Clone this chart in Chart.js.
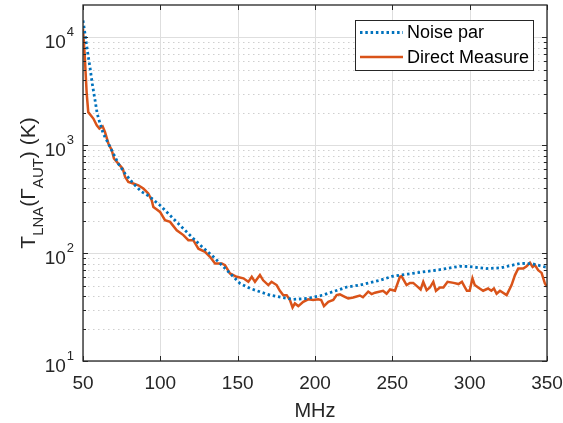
<!DOCTYPE html>
<html>
<head>
<meta charset="utf-8">
<script src="https://cdn.jsdelivr.net/npm/chart.js@4.4.1/dist/chart.umd.min.js"></script>
<style>
  html, body { margin: 0; padding: 0; background: #fff; }
  #wrap { width: 563px; height: 423px; }
</style>
</head>
<body>
<div id="wrap"><canvas id="grafico" width="563" height="423"></canvas></div>
<script>
// Noise parameters model (MHz, K)
const noiseFreq = [50, 51.3, 52.8, 54.5, 56, 57.8, 59.2, 61, 63.1, 66.4, 69.6, 72.8, 77.2, 82.5, 88, 91, 93.3,
  99.8, 108.4, 117.1, 125.7, 134.3, 143, 151.5, 158, 170.9, 185.7, 195, 205, 220.6, 229, 242, 250.4,
  260, 270, 280, 293.7, 300, 311, 320, 332.5, 340, 348.7, 350];
const noiseTemp = [14350, 10800, 7580, 5300, 3720, 2610, 1965, 1590, 1283, 1037, 838, 677, 547, 442, 370, 350, 332,
  278, 209, 157, 119, 92.5, 69.7, 52.4, 47.1, 40.8, 37.3, 38, 40.8, 48.5, 50.6, 56, 61.2,
  64, 67, 70, 75.7, 75, 72, 73, 80.3, 80, 74.5, 74];

// Direct measurement (MHz, K)
const directFreq = [50, 51.2, 52.4, 53.4, 55, 56.7, 58.9, 60.6, 62.7, 64.2, 66.4, 68.6, 70, 72.8, 75.7, 77.2, 79.3,
  82.5, 85.8, 89, 91.2, 92.2, 94.4, 95.5, 97.5, 99.8, 103, 106.3, 110.6, 114.9, 118.1, 121.3, 124.6, 128.9,
  132.1, 135.4, 139.7, 141.8, 145, 149.4, 153.7, 156.9, 159.1, 161.2, 164.4, 166.5, 169.8, 171.9, 175.2,
  177.3, 179.5, 181.7, 183.8, 185.5, 187, 189.2, 192.4, 195.6, 198.9, 202.1, 204, 205.8, 208.6, 211.8,
  214, 216.1, 219.3, 221.5, 224.7, 229, 231, 234.4, 236.6, 238.8, 244, 246.3, 248.5, 251.7, 254.9, 256,
  259.2, 261.4, 263.5, 266.8, 268.3, 270, 272.2, 274.3, 276.5, 278.2, 280.8, 283, 285.7, 289.6, 292.8,
  295, 296.5, 298.2, 300, 301.8, 303.3, 305.5, 308.7, 311.9, 314, 315.7, 317.4, 319.6, 323.9, 327.1,
  329.3, 331.4, 334.7, 336.8, 339, 340.7, 342.2, 344.3, 346.5, 348.6, 350];
const directTemp = [12000, 6500, 3010, 2030, 1900, 1770, 1530, 1430, 1500, 1330, 1040, 900, 755, 677, 608, 510, 457,
  442, 426, 397, 370, 357, 310, 268, 255, 241, 202, 195, 163, 147, 132, 132, 110, 103,
  92.5, 80.3, 80.3, 77.4, 64.8, 60.4, 58.4, 54.2, 60.4, 54.2, 62.6, 56, 50.6, 54.3, 50.6,
  44.8, 40.8, 40.8, 36.8, 31.4, 34.2, 32.3, 35.4, 37.3, 36.8, 37.3, 36.8, 32.3, 35.4, 36.8,
  40.8, 41.5, 39.4, 38, 38.8, 40.5, 39, 44, 41.7, 43, 44.8, 42, 46, 44.8, 60.4, 61,
  50.6, 53, 53, 48.2, 46, 54.3, 45.4, 48, 54.3, 44.8, 48, 48, 54.3, 53, 51.7,
  54.3, 49.5, 44.8, 44.8, 58.4, 50.6, 48, 44.8, 47, 44.8, 47, 42, 44.8, 40.8, 50.6,
  62.6, 72, 72, 75.7, 81.4, 74.5, 77.4, 69.6, 65.6, 52.5, 48.7];

const seriesNames = ['Noise par', 'Direct Measure'];
const xTicks = [50, 100, 150, 200, 250, 300, 350];
const yDecades = [10, 100, 1000, 10000];
const yExponents = ['1', '2', '3', '4'];
const minorSteps = [2, 3, 4, 5, 6, 7, 8, 9];
const xTitle = 'MHz';
// y title pieces: [text, is subscript]
const yTitle = [['T', false], ['LNA', true], ['(', false], ['Γ', false], ['AUT', true], [') (K)', false]];

const FONT = '"Liberation Sans", Arial, sans-serif';
const AXIS = '#262626';

// grid lines under the curves
const gridPlugin = {
  id: 'rejilla',
  beforeDatasetsDraw(chart) {
    const { ctx, chartArea: a, scales: { x, y } } = chart;
    ctx.save();
    ctx.lineWidth = 1;
    // minor y grid, dotted
    ctx.strokeStyle = '#cfcfcf';
    ctx.setLineDash([1.5, 3.5]);
    yDecades.forEach(d => {
      minorSteps.forEach(m => {
        const v = d * m;
        if (v >= y.max) return;
        const py = Math.round(y.getPixelForValue(v)) + 0.5;
        ctx.beginPath(); ctx.moveTo(a.left, py); ctx.lineTo(a.right, py); ctx.stroke();
      });
    });
    // major grid, solid
    ctx.setLineDash([]);
    ctx.strokeStyle = '#dedede';
    yDecades.forEach(v => {
      const py = Math.round(y.getPixelForValue(v)) + 0.5;
      ctx.beginPath(); ctx.moveTo(a.left, py); ctx.lineTo(a.right, py); ctx.stroke();
    });
    xTicks.forEach(v => {
      const px = Math.round(x.getPixelForValue(v)) + 0.5;
      ctx.beginPath(); ctx.moveTo(px, a.top); ctx.lineTo(px, a.bottom); ctx.stroke();
    });
    ctx.restore();
  }
};

// box, ticks, labels and legend on top
const axesPlugin = {
  id: 'ejes',
  afterDatasetsDraw(chart) {
    const { ctx, chartArea: a, scales: { x, y } } = chart;
    ctx.save();
    ctx.strokeStyle = AXIS;
    ctx.lineWidth = 1.3;
    ctx.setLineDash([]);
    ctx.strokeRect(a.left, a.top, a.right - a.left, a.bottom - a.top);

    // ticks pointing inward
    ctx.lineWidth = 1;
    ctx.beginPath();
    xTicks.forEach(v => {
      const px = Math.round(x.getPixelForValue(v)) + 0.5;
      ctx.moveTo(px, a.bottom); ctx.lineTo(px, a.bottom - 5);
      ctx.moveTo(px, a.top); ctx.lineTo(px, a.top + 5);
    });
    yDecades.forEach(d => {
      const py = Math.round(y.getPixelForValue(d)) + 0.5;
      ctx.moveTo(a.left, py); ctx.lineTo(a.left + 5, py);
      ctx.moveTo(a.right, py); ctx.lineTo(a.right - 5, py);
      minorSteps.forEach(m => {
        if (d * m >= y.max) return;
        const pm = Math.round(y.getPixelForValue(d * m)) + 0.5;
        ctx.moveTo(a.left, pm); ctx.lineTo(a.left + 3, pm);
        ctx.moveTo(a.right, pm); ctx.lineTo(a.right - 3, pm);
      });
    });
    ctx.stroke();

    // x tick labels
    ctx.fillStyle = AXIS;
    ctx.font = '19px ' + FONT;
    ctx.textAlign = 'center';
    ctx.textBaseline = 'alphabetic';
    xTicks.forEach(v => ctx.fillText(String(v), x.getPixelForValue(v), a.bottom + 28));

    // y tick labels 10^n
    ctx.textAlign = 'right';
    yDecades.forEach((d, i) => {
      const py = y.getPixelForValue(d);
      ctx.font = '13px ' + FONT;
      const ew = ctx.measureText(yExponents[i]).width;
      ctx.fillText(yExponents[i], a.left - 9, py - 1);
      ctx.font = '19px ' + FONT;
      ctx.fillText('10', a.left - 9 - ew - 1, py + 11);
    });

    // axis titles
    ctx.font = '20px ' + FONT;
    ctx.textAlign = 'center';
    ctx.fillText(xTitle, (a.left + a.right) / 2, 417);

    ctx.save();
    ctx.translate(35, 183);
    ctx.rotate(-Math.PI / 2);
    ctx.textAlign = 'left';
    const fontFor = sub => (sub ? '15px ' : '21px ') + FONT;
    let total = 0;
    yTitle.forEach(([t, sub]) => { ctx.font = fontFor(sub); total += ctx.measureText(t).width; });
    let cx = -total / 2;
    yTitle.forEach(([t, sub]) => {
      ctx.font = fontFor(sub);
      ctx.fillText(t, cx, sub ? 8 : 0);
      cx += ctx.measureText(t).width;
    });
    ctx.restore();

    // legend
    const lx = 355, ly = 20, lw = 178, lh = 50;
    ctx.fillStyle = '#fff';
    ctx.fillRect(lx, ly, lw, lh);
    ctx.strokeStyle = AXIS;
    ctx.lineWidth = 1;
    ctx.strokeRect(lx + 0.5, ly + 0.5, lw, lh);
    ctx.font = '18px ' + FONT;
    ctx.textAlign = 'left';
    ctx.textBaseline = 'middle';
    chart.data.datasets.forEach((ds, i) => {
      const ry = ly + 12.5 + i * 24.5;
      ctx.strokeStyle = ds.borderColor;
      ctx.lineWidth = ds.borderWidth;
      ctx.setLineDash(ds.borderDash || []);
      ctx.beginPath(); ctx.moveTo(lx + 5, ry); ctx.lineTo(lx + 48, ry); ctx.stroke();
      ctx.fillStyle = '#000';
      ctx.fillText(ds.label, lx + 52, ry + 1);
    });
    ctx.restore();
  }
};

const ctx = document.getElementById('grafico').getContext('2d');
const grafico = new Chart(ctx, {
  type: 'line',
  data: {
    datasets: [{
      label: seriesNames[0],
      data: noiseFreq.map((f, i) => ({ x: f, y: noiseTemp[i] })),
      borderColor: '#0072BD',
      borderWidth: 2.8,
      borderDash: [2.5, 2.8],
      pointRadius: 0,
      tension: 0,
      fill: false
    },
    {
      label: seriesNames[1],
      data: directFreq.map((f, i) => ({ x: f, y: directTemp[i] })),
      borderColor: '#D95319',
      borderWidth: 2.5,
      pointRadius: 0,
      tension: 0,
      fill: false
    }]
  },
  options: {
    responsive: false,
    animation: false,
    layout: { padding: { left: 83, top: 5, right: 16, bottom: 62 } },
    plugins: { legend: { display: false }, tooltip: { enabled: false } },
    scales: {
      x: { type: 'linear', min: 50, max: 350, display: false },
      y: { type: 'logarithmic', min: 10, max: 20000, display: false }
    }
  },
  plugins: [gridPlugin, axesPlugin]
});
</script>
</body>
</html>
